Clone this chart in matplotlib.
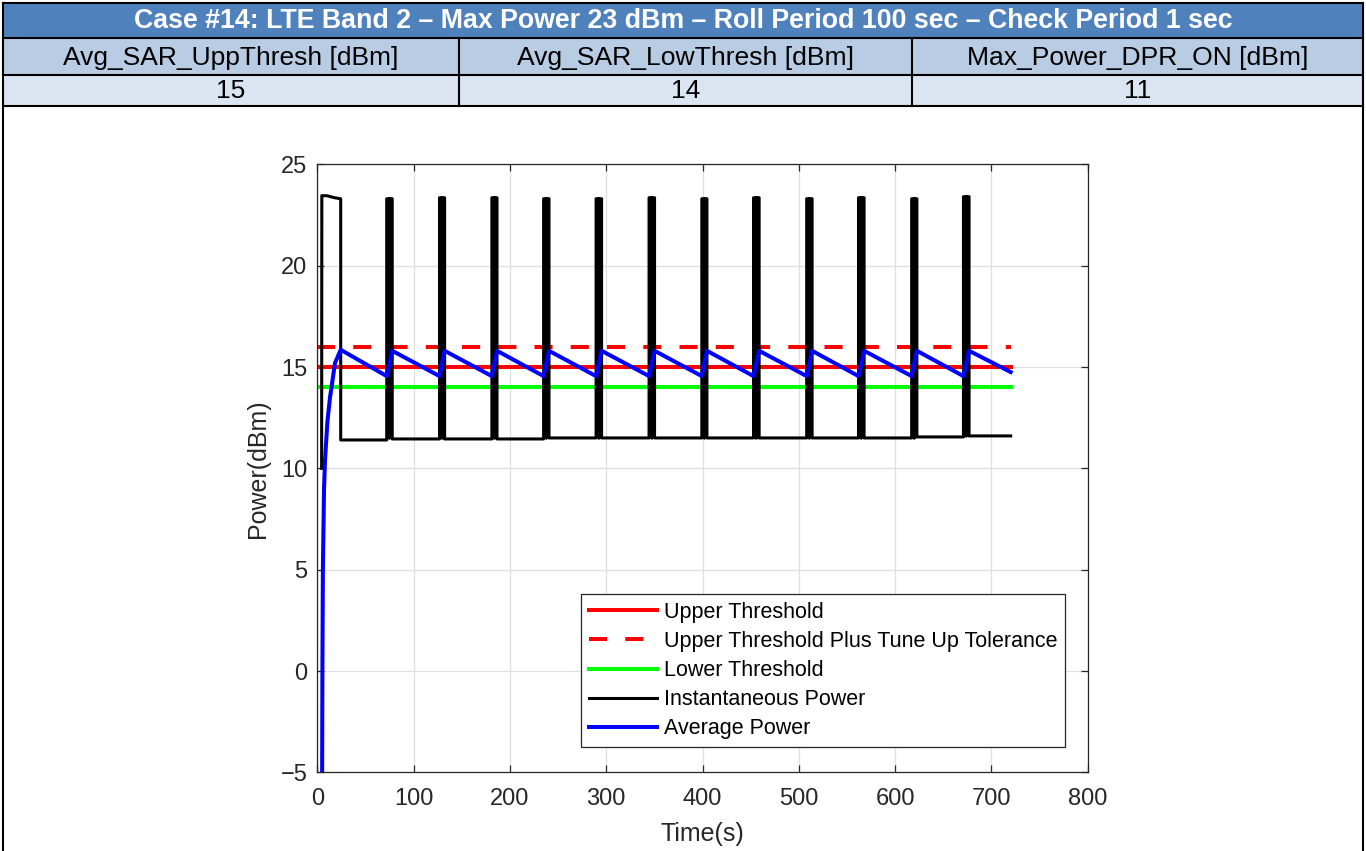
import matplotlib
matplotlib.use('Agg')
import matplotlib.pyplot as plt
from matplotlib.patches import Rectangle
from matplotlib.lines import Line2D
from matplotlib import font_manager

W, H = 1366, 851

# ---------------- header table text ----------------
title = "Case #14: LTE Band 2 \u2013 Max Power 23 dBm \u2013 Roll Period 100 sec \u2013 Check Period 1 sec"
param_names = ["Avg_SAR_UppThresh [dBm]", "Avg_SAR_LowThresh [dBm]", "Max_Power_DPR_ON [dBm]"]
param_values = ["15", "14", "11"]

# ---------------- chart data ----------------
upper_threshold = 15.0
upper_threshold_tol = 16.0
lower_threshold = 14.0
t_end = 720.0

# instantaneous power: first (long) burst
first_burst_t = [4.5, 4.7, 10.0, 18.0, 24.3]
first_burst_p = [10.0, 23.45, 23.45, 23.35, 23.3]
# subsequent short bursts
pulse_start = [72.1, 126.9, 181.3, 235.0, 289.5, 344.5, 399.3, 453.0, 508.2, 562.0, 617.2, 671.0]
pulse_end = [77.8, 132.2, 186.6, 240.6, 295.2, 350.2, 404.6, 458.8, 513.8, 567.8, 622.6, 676.8]
pulse_high = [23.3, 23.35, 23.35, 23.3, 23.3, 23.35, 23.3, 23.35, 23.3, 23.35, 23.3, 23.4]
pulse_dip = [11.5, 11.5, 11.5, 11.5, 11.5, 11.5, 11.5, 11.5, 11.5, 11.5, 11.5, 11.6]
low_levels = [11.4, 11.45, 11.45, 11.45, 11.5, 11.5, 11.5, 11.5, 11.5, 11.5, 11.5, 11.55, 11.6]

# average power
avg_rise_t = [5.0, 5.3, 5.8, 7.0, 8.0, 10.5, 13.2, 18.4, 24.3]
avg_rise_p = [-5.5, 0.0, 5.0, 9.0, 10.4, 12.3, 13.5, 15.2, 15.85]
avg_trough = [14.55, 14.55, 14.55, 14.55, 14.55, 14.55, 14.55, 14.55, 14.55, 14.55, 14.55, 14.55]
avg_peak = [15.8, 15.8, 15.8, 15.8, 15.8, 15.8, 15.8, 15.8, 15.8, 15.8, 15.8, 15.8]
avg_final = 14.75

x_ticks = [0, 100, 200, 300, 400, 500, 600, 700, 800]
y_ticks = [-5, 0, 5, 10, 15, 20, 25]

# ---------------- build series ----------------
inst_t = list(first_burst_t) + [first_burst_t[-1]]
inst_p = list(first_burst_p) + [low_levels[0]]
for i in range(len(pulse_start)):
    mid = (pulse_start[i] + pulse_end[i]) / 2
    inst_t += [pulse_start[i], pulse_start[i], mid, mid, mid, pulse_end[i], pulse_end[i]]
    inst_p += [low_levels[i], pulse_high[i], pulse_high[i], pulse_dip[i], pulse_high[i],
               pulse_high[i], low_levels[i + 1]]
inst_t.append(t_end)
inst_p.append(low_levels[-1])

avg_t = list(avg_rise_t)
avg_p = list(avg_rise_p)
for i in range(len(pulse_start)):
    avg_t += [pulse_start[i], pulse_end[i]]
    avg_p += [avg_trough[i], avg_peak[i]]
avg_t.append(t_end)
avg_p.append(avg_final)


def has_font(name):
    try:
        font_manager.findfont(name, fallback_to_default=False)
        return True
    except Exception:
        return False


narrow = 'Liberation Sans Narrow' if has_font('Liberation Sans Narrow') else 'Liberation Sans'
plt.rcParams['font.family'] = ['Liberation Sans', 'DejaVu Sans']

fig = plt.figure(figsize=(W / 100, H / 100), dpi=100)
fig.patch.set_facecolor('white')


def fx(x):
    return x / W


def fy(y):
    return 1 - y / H


def rect(x0, y0, x1, y1, color):
    fig.add_artist(Rectangle((fx(x0), fy(y1)), fx(x1) - fx(x0), fy(y0) - fy(y1),
                             transform=fig.transFigure, facecolor=color, edgecolor='none', zorder=1))


def hline(x0, x1, y, lw=1.5):
    fig.add_artist(Line2D([fx(x0), fx(x1)], [fy(y), fy(y)], transform=fig.transFigure,
                          color='black', lw=lw, zorder=3))


def vline(x, y0, y1, lw=1.5):
    fig.add_artist(Line2D([fx(x), fx(x)], [fy(y0), fy(y1)], transform=fig.transFigure,
                          color='black', lw=lw, zorder=3))


L, R = 3, 1363
r0, r1, r2, r3 = 3, 38, 75, 106
c1, c2 = 459, 912
rect(L, r0, R, r1, '#4F81BD')
rect(L, r1, R, r2, '#B8CCE4')
rect(L, r2, R, r3, '#DBE5F1')
hline(L, R, r0)
hline(L, R, r1)
hline(L, R, r2)
hline(L, R, r3)
vline(L, r0, H)
vline(R, r0, H)
vline(c1, r1, r3)
vline(c2, r1, r3)

texts = []
t_title = fig.text(fx((L + R) / 2), fy((r0 + r1) / 2 + 1), title, color='white', fontweight='bold',
                   ha='center', va='center', fontsize=16, family=[narrow, 'DejaVu Sans'], zorder=4)
texts.append((t_title, 1098))
cols = [(L + c1) / 2, (c1 + c2) / 2, (c2 + R) / 2]
targets = [337, 337, 342]
for cx, name, tw in zip(cols, param_names, targets):
    t = fig.text(fx(cx), fy((r1 + r2) / 2 + 1), name, color='black', ha='center', va='center',
                 fontsize=16, family=[narrow, 'DejaVu Sans'], zorder=4)
    texts.append((t, tw))
val_texts = []
for cx, v in zip(cols, param_values):
    t = fig.text(fx(cx), fy((r2 + r3) / 2 + 1), v, color='black', ha='center', va='center',
                 fontsize=16, family=[narrow, 'DejaVu Sans'], zorder=4)
    val_texts.append(t)

# ---------------- axes ----------------
ax_l, ax_r = 317.3, 1087.7
ax_t, ax_b = 164.3, 772.4
ax = fig.add_axes([fx(ax_l), fy(ax_b), fx(ax_r) - fx(ax_l), fy(ax_t) - fy(ax_b)])

ax.plot([0, t_end], [upper_threshold, upper_threshold], color='#FF0000', lw=2.9, label='Upper Threshold')
ax.plot([0, t_end], [upper_threshold_tol, upper_threshold_tol], color='#FF0000', lw=2.9,
        dashes=(4.5, 4.5), label='Upper Threshold Plus Tune Up Tolerance')
ax.plot([0, t_end], [lower_threshold, lower_threshold], color='#00FF00', lw=2.9, label='Lower Threshold')
ax.plot(inst_t, inst_p, color='black', lw=2.2, label='Instantaneous Power')
ax.plot(avg_t, avg_p, color='#0000FF', lw=2.9, label='Average Power')

ax.set_xlim(0, 800)
ax.set_ylim(-5, 25)
ax.set_xticks(x_ticks)
ax.set_yticks(y_ticks)
ax.grid(True, color='#DFDFDF', lw=0.9)
ax.set_axisbelow(True)
for s in ax.spines.values():
    s.set_color('#262626')
    s.set_linewidth(0.9)
ax.tick_params(direction='in', top=True, right=True, length=5, width=0.9, color='#262626',
               labelcolor='#262626', labelsize=17)
ax.tick_params(axis='x', pad=11)
ax.tick_params(axis='y', pad=7)
ax.set_xlabel('Time(s)', fontsize=18, color='#262626', labelpad=9)
ax.set_ylabel('Power(dBm)', fontsize=18, color='#262626', labelpad=8)

leg = ax.legend(loc='lower right', bbox_to_anchor=(0.9705, 0.0418), borderaxespad=0,
                fontsize=15.5, frameon=True, fancybox=False, framealpha=1, edgecolor='#262626',
                handlelength=3.2, handletextpad=0.3, labelspacing=0.38, borderpad=0.35)
leg.get_frame().set_linewidth(0.9)
for txt in leg.get_texts():
    txt.set_color('black')

# fit header font sizes to the target widths
fig.canvas.draw()
renderer = fig.canvas.get_renderer()
for t, tw in texts:
    bb = t.get_window_extent(renderer)
    t.set_fontsize(t.get_fontsize() * tw / bb.width)
row_fs = texts[1][0].get_fontsize()
for t in val_texts:
    t.set_fontsize(row_fs)

fig.savefig('out.png', dpi=100)
